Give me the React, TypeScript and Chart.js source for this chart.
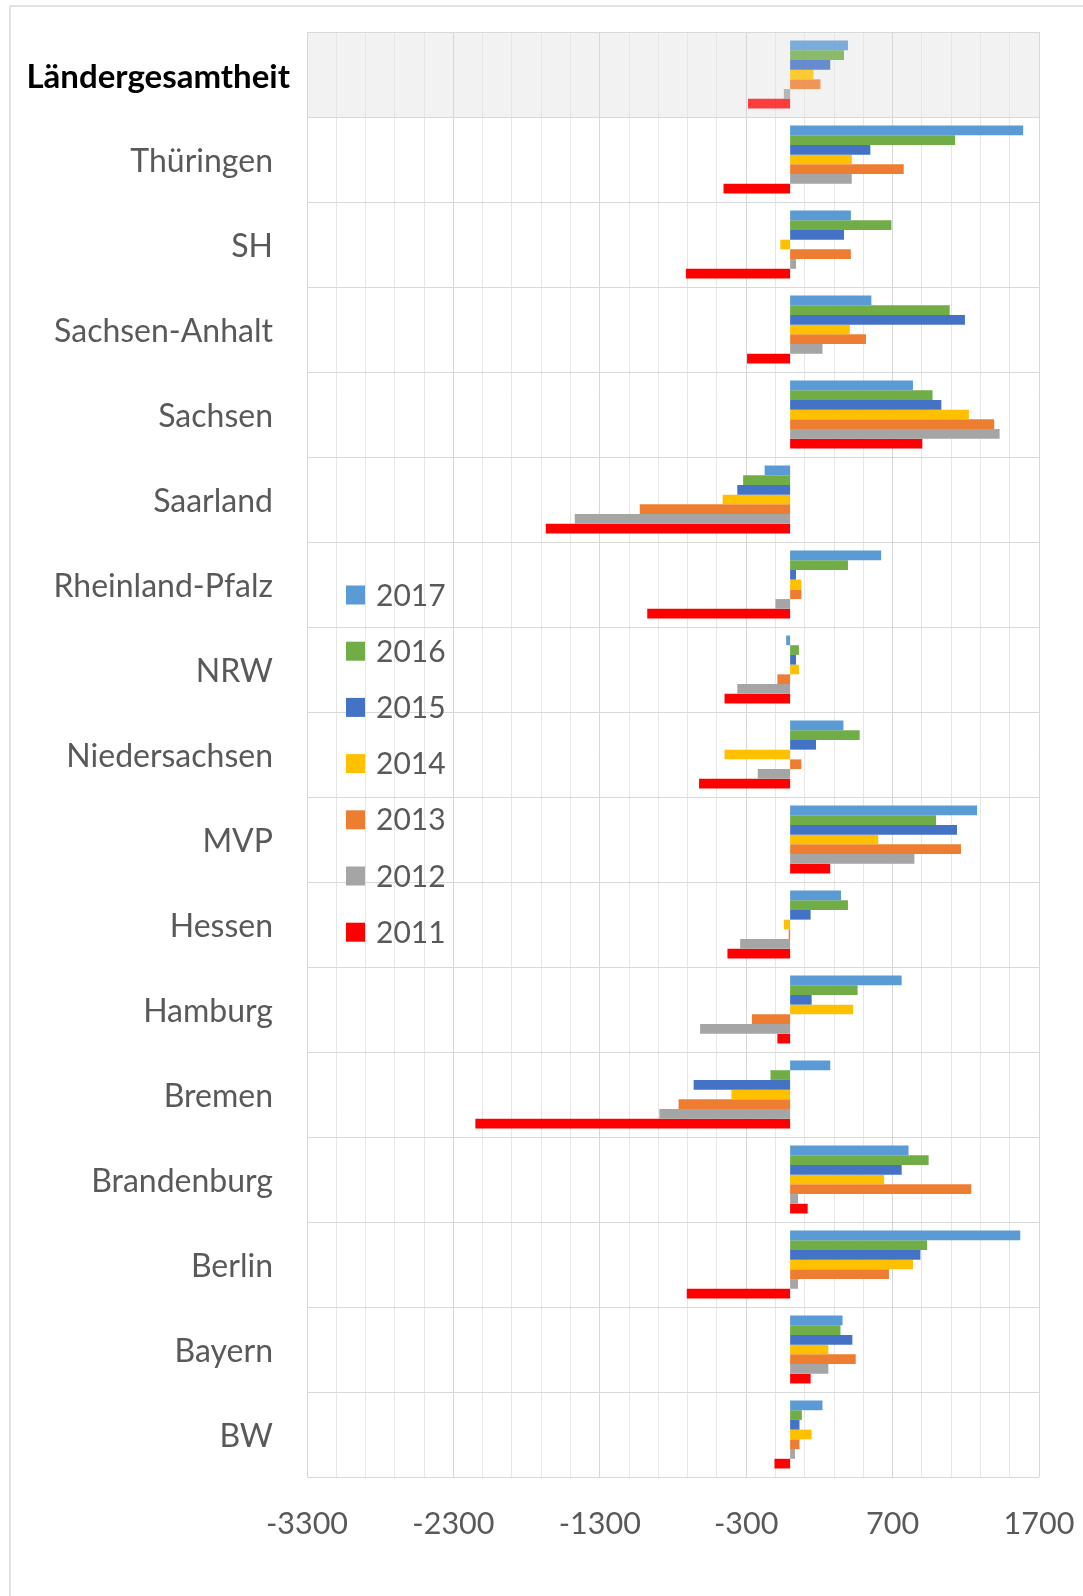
import React, { useEffect, useRef } from 'react';
import { Chart, registerables } from 'chart.js';

Chart.register(...registerables);

const categories = [
  'Ländergesamtheit', 'Thüringen', 'SH', 'Sachsen-Anhalt', 'Sachsen', 'Saarland',
  'Rheinland-Pfalz', 'NRW', 'Niedersachsen', 'MVP', 'Hessen', 'Hamburg', 'Bremen',
  'Brandenburg', 'Berlin', 'Bayern', 'BW',
];

const years = ['2017', '2016', '2015', '2014', '2013', '2012', '2011'];

const values2017 = [395, 1592, 415, 555, 839, -174, 622, -27, 364, 1277, 348, 762, 274, 809, 1572, 358, 221];
const values2016 = [368, 1127, 692, 1090, 973, -321, 395, 60, 475, 997, 395, 461, -134, 946, 936, 344, 80];
const values2015 = [274, 548, 368, 1194, 1033, -361, 40, 40, 177, 1140, 140, 147, -659, 762, 890, 425, 64];
const values2014 = [160, 421, -67, 408, 1221, -461, 77, 60, -448, 602, -43, 431, -401, 642, 839, 261, 147];
const values2013 = [207, 776, 415, 518, 1394, -1027, 77, -87, 77, 1167, -10, -261, -762, 1237, 675, 448, 64];
const values2012 = [-43, 421, 40, 221, 1431, -1471, -100, -361, -221, 849, -341, -615, -893, 54, 54, 261, 33];
const values2011 = [-288, -455, -712, -294, 903, -1669, -976, -448, -622, 274, -428, -87, -2150, 120, -706, 140, -107];

const seriesValues = [values2017, values2016, values2015, values2014, values2013, values2012, values2011];

const seriesColors = ['#5b9bd5', '#70ad47', '#4472c4', '#ffc000', '#ed7d31', '#a5a5a5', '#ff0000'];
const seriesColorsFaded = [
  'rgba(91,155,213,0.8)', 'rgba(112,173,71,0.8)', 'rgba(68,114,196,0.8)', 'rgba(255,192,0,0.8)',
  'rgba(237,125,49,0.8)', 'rgba(165,165,165,0.8)', 'rgba(255,0,0,0.75)',
];

const xTickLabels = ['-3300', '-2300', '-1300', '-300', '700', '1700'];
const xMin = -3300;
const xMax = 1700;
const gridStep = 200;

const FONT = 'Lato, "Open Sans", sans-serif';
const W = 1083;
const H = 1596;

export default function App() {
  const canvasRef = useRef<HTMLCanvasElement | null>(null);

  useEffect(() => {
    const canvas = canvasRef.current;
    if (!canvas) return;

    const backgroundPlugin = {
      id: 'bgBand',
      beforeDraw(chart: any) {
        const ctx = chart.ctx;
        const area = chart.chartArea;
        const y = chart.scales.y;
        ctx.save();
        ctx.fillStyle = '#ffffff';
        ctx.fillRect(0, 0, chart.width, chart.height);
        ctx.strokeStyle = '#e2e2e2';
        ctx.lineWidth = 2;
        ctx.beginPath();
        ctx.moveTo(10, chart.height + 5);
        ctx.lineTo(10, 6);
        ctx.lineTo(chart.width + 5, 6);
        ctx.stroke();
        const bandBottom = (y.getPixelForValue(0) + y.getPixelForValue(1)) / 2;
        ctx.fillStyle = '#f2f2f2';
        ctx.fillRect(area.left, area.top, area.right - area.left, bandBottom - area.top);
        ctx.restore();
      },
    };

    const overlayPlugin = {
      id: 'insideLegend',
      afterDatasetsDraw(chart: any) {
        const ctx = chart.ctx;
        const y = chart.scales.y;
        ctx.save();
        // highlighted first category label (bold, shifted as in the original)
        ctx.fillStyle = '#000000';
        ctx.font = `bold 33px ${FONT}`;
        ctx.textAlign = 'right';
        ctx.textBaseline = 'middle';
        ctx.fillText(String(chart.data.labels[0]), 290, y.getPixelForValue(0) + 3);
        // legend inside the plot area
        const startY = 595;
        const step = 56.2;
        chart.data.datasets.forEach((ds: any, i: number) => {
          const cy = startY + step * i;
          ctx.fillStyle = seriesColors[i];
          ctx.fillRect(346, cy - 9.5, 19, 19);
          ctx.fillStyle = '#595959';
          ctx.font = `30px ${FONT}`;
          ctx.textAlign = 'left';
          ctx.textBaseline = 'middle';
          ctx.fillText(ds.label, 376, cy + 1);
        });
        ctx.restore();
      },
    };

    const chart = new Chart(canvas, {
      type: 'bar',
      data: {
        labels: categories,
        datasets: years.map((yr, i) => ({
          label: yr,
          data: seriesValues[i],
          backgroundColor: seriesValues[i].map((_, j) => (j === 0 ? seriesColorsFaded[i] : seriesColors[i])),
          borderWidth: 0,
          categoryPercentage: 0.8,
          barPercentage: 1.0,
        })),
      },
      options: {
        indexAxis: 'y',
        responsive: false,
        maintainAspectRatio: false,
        animation: false,
        devicePixelRatio: 1,
        layout: { padding: { top: 32, right: 44, bottom: 0, left: 0 } },
        plugins: {
          legend: { display: false },
          tooltip: { enabled: false },
        },
        scales: {
          x: {
            type: 'linear',
            min: xMin,
            max: xMax,
            afterBuildTicks: (scale: any) => {
              const t = [];
              for (let v = xMin; v <= xMax; v += gridStep) t.push({ value: v });
              scale.ticks = t;
            },
            afterFit: (scale: any) => {
              scale.height = 119;
              scale.paddingLeft = 0;
              scale.paddingRight = 0;
            },
            ticks: {
              autoSkip: false,
              maxRotation: 0,
              padding: 29,
              color: '#595959',
              font: { family: FONT, size: 30.5 },
              callback: (v: any) => {
                const s = String(v);
                return xTickLabels.includes(s) ? s : '';
              },
            },
            grid: {
              drawTicks: false,
              color: (ctx: any) => {
                const v = ctx.tick ? ctx.tick.value : 0;
                return xTickLabels.includes(String(v)) ? '#d6d6d6' : '#e6e6e6';
              },
              lineWidth: 1,
            },
            border: { display: false },
          },
          y: {
            type: 'category',
            afterFit: (scale: any) => {
              scale.width = 307;
              scale.paddingTop = 0;
              scale.paddingBottom = 0;
            },
            ticks: {
              autoSkip: false,
              padding: 34,
              labelOffset: 2,
              color: '#595959',
              font: { family: FONT, size: 32 },
              callback: (_v: any, index: number) => (index === 0 ? '' : categories[index]),
            },
            grid: {
              drawTicks: false,
              color: '#d9d9d9',
              lineWidth: 1,
            },
            border: { display: false },
          },
        },
      },
      plugins: [backgroundPlugin, overlayPlugin],
    } as any);

    return () => {
      chart.destroy();
    };
  }, []);

  return (
    <div style={{ position: 'absolute', left: 0, top: 0, width: W, height: H, background: '#ffffff' }}>
      <canvas ref={canvasRef} width={W} height={H} style={{ display: 'block', width: W, height: H }} />
    </div>
  );
}
